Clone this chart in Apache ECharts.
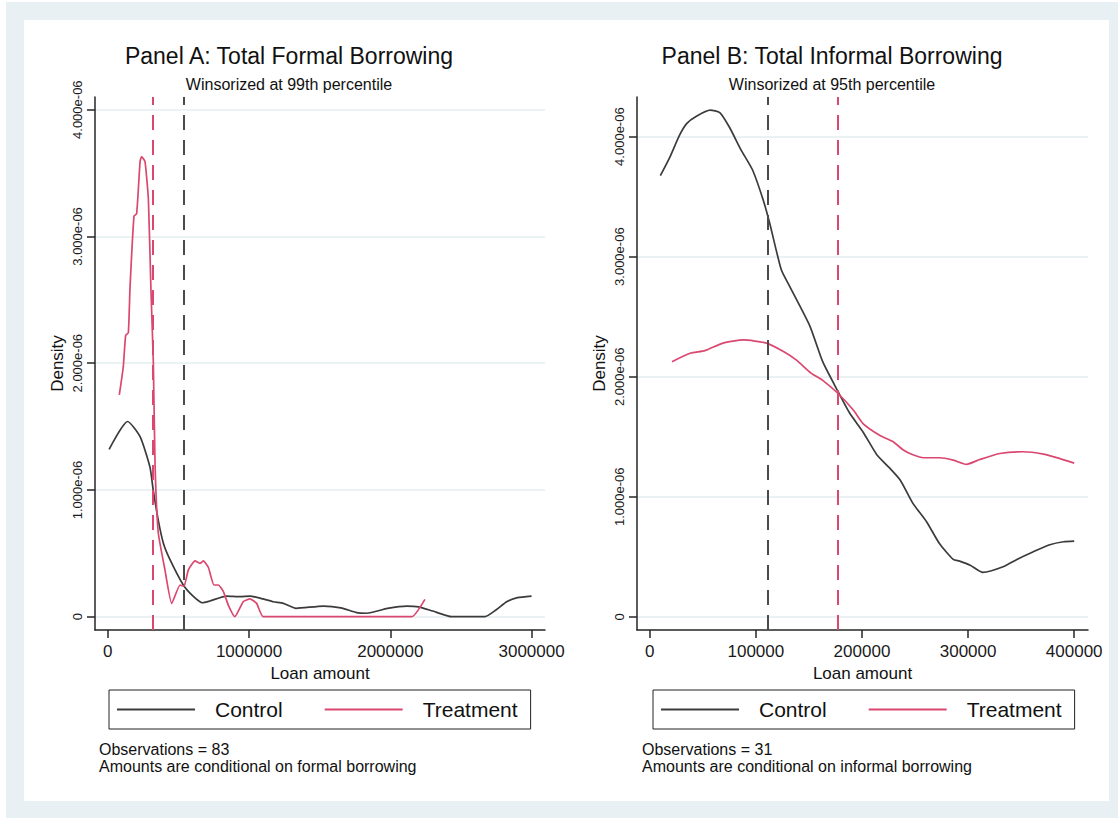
<!DOCTYPE html>
<html>
<head>
<meta charset="utf-8">
<script src="https://cdn.jsdelivr.net/npm/echarts@6/dist/echarts.min.js"></script>
<style>
html,body{margin:0;padding:0;background:#fff;}
#chart{width:1118px;height:818px;}
</style>
</head>
<body>
<div id="chart"></div>
<script>
// ---------- DATA (density values in units of 1e-6) ----------
const panelTitles = ['Panel A: Total Formal Borrowing', 'Panel B: Total Informal Borrowing'];
const panelSubtitles = ['Winsorized at 99th percentile', 'Winsorized at 95th percentile'];
const panelNotes = [
  'Observations = 83\nAmounts are conditional on formal borrowing',
  'Observations = 31\nAmounts are conditional on informal borrowing'
];
const seriesNames = ['Control', 'Treatment'];

// Panel A: formal borrowing
const formalControlX = [10000,141000,229000,299000,322000,358000,394000,441000,535000,606000,670000,724000,842000,936000,1007000,1100000,1172000,1243000,1333000,1526000,1650000,1762000,1833000,1980000,2116000,2200000,2300000,2435000,2670000,2750000,2824000,2900000,3000000];
const formalControlY = [1.32,1.54,1.42,1.18,1.0,0.76,0.58,0.45,0.25,0.16,0.11,0.124,0.163,0.158,0.163,0.14,0.118,0.105,0.066,0.084,0.07,0.032,0.027,0.065,0.084,0.078,0.045,0,0,0.055,0.118,0.15,0.163];
const formalTreatX = [82000,110000,127000,146000,158000,186000,205000,229000,240000,264000,288000,306000,323000,335000,358000,405000,453000,512000,540000,571000,618000,653000,677000,712000,752000,783000,818000,854000,900000,960000,1007000,1054000,1101000,2151000,2245000];
const formalTreatY = [1.75,1.97,2.22,2.24,2.6,3.16,3.18,3.59,3.63,3.59,3.29,2.58,2.0,1.2,0.66,0.37,0.105,0.25,0.24,0.37,0.44,0.42,0.44,0.39,0.25,0.25,0.2,0.09,0,0.12,0.14,0.105,0,0,0.137];
const formalMeans = [540000, 318000]; // control, treatment

// Panel B: informal borrowing
const informalControlX = [10000,19000,28000,35000,44000,57000,66000,75000,86000,97000,107000,113000,124000,132000,151000,163000,177500,188500,201000,214000,226000,236000,248000,261000,273000,286000,292000,302000,314000,333000,346000,361000,377000,390000,400000];
const informalControlY = [3.675,3.83,4.01,4.11,4.17,4.22,4.2,4.08,3.89,3.72,3.47,3.28,2.89,2.75,2.42,2.125,1.875,1.695,1.54,1.35,1.24,1.14,0.945,0.79,0.61,0.478,0.464,0.43,0.37,0.417,0.478,0.54,0.6,0.625,0.63];
const informalTreatX = [21000,38000,52000,69000,88000,110000,126000,138000,152000,163000,177500,192000,201000,217000,229000,239000,248000,258000,273000,286000,298500,311000,330000,352000,371000,386000,400000];
const informalTreatY = [2.125,2.195,2.217,2.28,2.306,2.28,2.21,2.14,2.03,1.97,1.86,1.72,1.61,1.51,1.46,1.39,1.35,1.325,1.325,1.305,1.27,1.31,1.36,1.375,1.355,1.32,1.28];
const informalMeans = [111500, 177500]; // control, treatment

const yTicks = [0, 1, 2, 3, 4];
const xTicksA = [0, 1000000, 2000000, 3000000];
const xTicksB = [0, 100000, 200000, 300000, 400000];

// ---------- STYLE ----------
const FONT = '"Liberation Sans", Arial, Helvetica, sans-serif';
const C_CONTROL = '#3b3b3b';
const C_TREAT = '#da4870';
const C_AXIS = '#262626';
const C_GRID = '#e5eef1';
const zip = (xs, ys) => xs.map((x, i) => [x, ys[i]]);

function yAxisCfg(gridIndex, min, max) {
  return {
    type: 'value', gridIndex, min, max,
    name: 'Density', nameLocation: 'middle', nameRotate: 90, nameGap: 29,
    nameTextStyle: { fontSize: 17, color: '#111', fontFamily: FONT },
    axisLine: { show: true, onZero: false, lineStyle: { color: C_AXIS, width: 1.5 } },
    axisTick: { show: true, length: 8, customValues: yTicks, lineStyle: { color: C_AXIS, width: 1.5 } },
    axisLabel: {
      customValues: yTicks, rotate: 90, margin: 11, fontSize: 13, color: '#1a1a1a', fontFamily: FONT,
      formatter: v => v === 0 ? '0' : v.toFixed(3) + 'e-06'
    },
    splitLine: { show: true, lineStyle: { color: C_GRID, width: 1.5 } }
  };
}
function xAxisCfg(gridIndex, min, max, ticks) {
  return {
    type: 'value', gridIndex, min, max,
    name: 'Loan amount', nameLocation: 'middle', nameGap: 31,
    nameTextStyle: { fontSize: 17, color: '#111', fontFamily: FONT },
    axisLine: { show: true, onZero: false, lineStyle: { color: C_AXIS, width: 1.5 } },
    axisTick: { show: true, length: 8, customValues: ticks, lineStyle: { color: C_AXIS, width: 1.5 } },
    axisLabel: { customValues: ticks, margin: 13, fontSize: 17, color: '#1a1a1a', fontFamily: FONT, formatter: v => String(v) },
    splitLine: { show: false }
  };
}
function lineSeries(name, idx, data, color, meanX, smooth) {
  return {
    type: 'line', name, xAxisIndex: idx, yAxisIndex: idx, data,
    symbol: 'none', smooth, lineStyle: { color, width: 1.7 }, itemStyle: { color },
    markLine: {
      silent: true, symbol: ['none', 'none'], label: { show: false },
      lineStyle: { color: name === 'Control' ? '#4a4a4a' : C_TREAT, type: [15, 10], width: 2 },
      data: [{ xAxis: meanX }]
    },
    z: 3
  };
}
function legendCfg(left) {
  return {
    left, top: 690, orient: 'horizontal', data: seriesNames, selectedMode: false,
    icon: 'rect', itemWidth: 78, itemHeight: 2,
    padding: [9, 13, 9, 8], itemGap: 42,
    borderColor: '#222', borderWidth: 1, backgroundColor: '#fff',
    textStyle: { fontSize: 21, color: '#111', fontFamily: FONT, padding: [0, 0, 0, 15] }
  };
}
function titleCfg(center, t, s) {
  return {
    text: t, subtext: s, left: center, top: 44, textAlign: 'center', itemGap: 9, padding: 0,
    textStyle: { fontSize: 23, fontWeight: 'normal', color: '#111', fontFamily: FONT },
    subtextStyle: { fontSize: 16, color: '#111', fontFamily: FONT }
  };
}
function noteCfg(left, t) {
  return {
    text: t, left, top: 741, padding: 0,
    textStyle: { fontSize: 16, fontWeight: 'normal', color: '#111', lineHeight: 17, fontFamily: FONT }
  };
}

const chart = echarts.init(document.getElementById('chart'), null, { renderer: 'svg' });
chart.setOption({
  animation: false,
  backgroundColor: '#ffffff',
  textStyle: { fontFamily: FONT },
  graphic: [
    { type: 'rect', z: -10, silent: true, shape: { x: 6, y: 2, width: 1112, height: 816 }, style: { fill: '#e8f0f3' } },
    { type: 'rect', z: -9, silent: true, shape: { x: 24, y: 20, width: 1085, height: 781 }, style: { fill: '#ffffff' } }
  ],
  title: [
    titleCfg(289, panelTitles[0], panelSubtitles[0]),
    titleCfg(832, panelTitles[1], panelSubtitles[1]),
    noteCfg(99, panelNotes[0]),
    noteCfg(642, panelNotes[1])
  ],
  legend: [legendCfg(109), legendCfg(653)],
  grid: [
    { left: 95, top: 97, width: 450, height: 533 },
    { left: 637, top: 97, width: 451, height: 533 }
  ],
  xAxis: [xAxisCfg(0, -90000, 3095000, xTicksA), xAxisCfg(1, -12000, 413000, xTicksB)],
  yAxis: [yAxisCfg(0, -0.105, 4.1), yAxisCfg(1, -0.11, 4.33)],
  series: [
    lineSeries('Control', 0, zip(formalControlX, formalControlY), C_CONTROL, formalMeans[0], 0.2),
    lineSeries('Treatment', 0, zip(formalTreatX, formalTreatY), C_TREAT, formalMeans[1], 0.15),
    lineSeries('Control', 1, zip(informalControlX, informalControlY), C_CONTROL, informalMeans[0], 0.2),
    lineSeries('Treatment', 1, zip(informalTreatX, informalTreatY), C_TREAT, informalMeans[1], 0.2)
  ]
});
</script>
</body>
</html>
